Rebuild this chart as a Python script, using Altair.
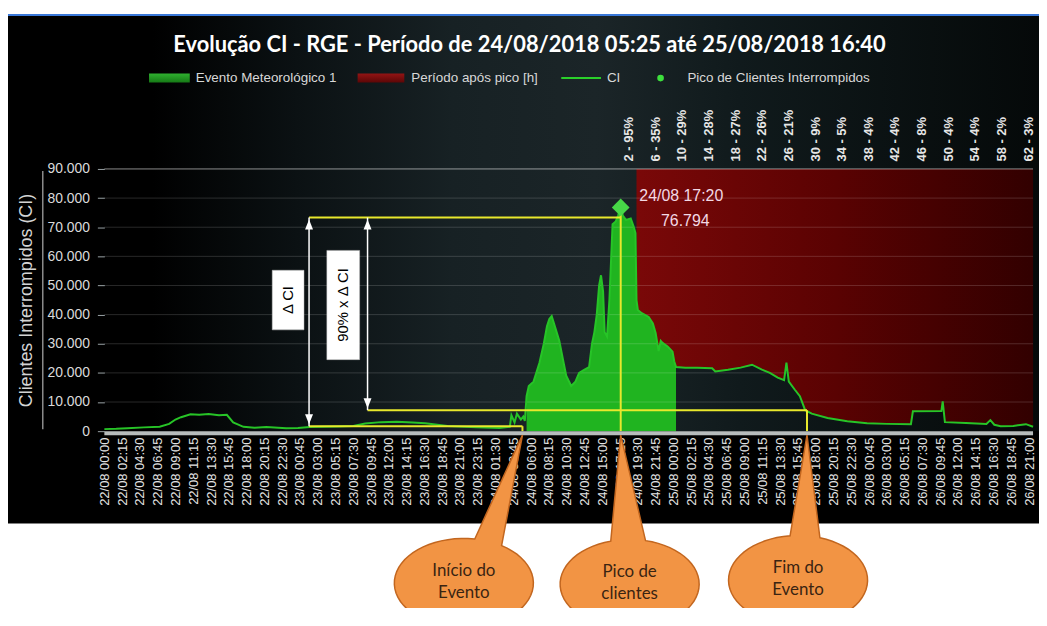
import math
import altair as alt
import pandas as pd

# ---------------- data ----------------
HOURS = [0.0, 1.5, 2.9, 5.0, 7.0, 8.2, 9.0, 9.7, 10.9, 12.0, 13.2, 14.5, 15.5, 16.3, 17.6,
         19.0, 20.5, 22.0, 23.0, 24.5, 26.0, 29.5, 31.5, 33.0, 35.0, 37.0, 39.0, 40.6, 43.4,
         47.1, 50.0, 51.3, 51.5, 51.9, 52.2, 52.7, 53.0, 53.2, 53.42, 53.7, 54.3, 55.05, 55.6,
         56.0, 56.3, 56.6, 57.0, 57.56, 58.0, 58.44, 59.07, 59.6, 60.07, 60.7, 61.33, 61.7,
         62.0, 62.3, 62.6, 62.84, 63.1, 63.3, 63.6, 63.9, 64.3, 64.7, 65.0, 65.33, 65.6, 66.0,
         66.6, 67.0, 67.2, 67.33, 67.5, 68.0, 68.87, 69.4, 69.75, 70.13, 70.4, 70.63, 71.3,
         71.89, 72.1, 72.33, 73.5, 75.0, 76.9, 77.3, 78.9, 80.5, 81.94, 83.2, 84.2, 85.2, 86.0,
         86.3, 86.6, 87.34, 88.0, 88.67, 89.5, 91.5, 94.0, 96.5, 99.0, 102.05, 102.3, 105.9,
         106.07, 106.35, 109.0, 111.6, 112.1, 112.6, 113.4, 115.0, 116.6, 117.5]
CI = [700, 800, 1000, 1300, 1500, 2500, 4000, 4800, 5800, 5600, 5900, 5500, 5600, 3000, 1500,
      1200, 1400, 1200, 1000, 1100, 1400, 1600, 1800, 2600, 3100, 3200, 3000, 2700, 1800,
      1300, 1100, 1500, 5500, 3000, 6000, 4000, 5000, 3500, 12000, 15500, 17000, 23500, 30000,
      36000, 38500, 39500, 36000, 31000, 25000, 19000, 15500, 17000, 20000, 21000, 22000, 30000,
      34000, 40000, 50000, 53500, 48000, 34000, 32500, 45000, 71000, 72000, 74000, 76794, 74000, 72500,
      73000, 70000, 68000, 45000, 41600, 40500, 39200, 37000, 33700, 27500, 31000, 30300, 29000,
      27300, 24000, 22000, 21800, 21800, 21600, 20500, 21100, 21800, 22800, 21100, 20000, 18400, 17500,
      23500, 17000, 14300, 12000, 7200, 6000, 4500, 3400, 2700, 2500, 2400, 6800, 6900,
      10200, 3100, 2800, 2500, 3800, 2200, 1700, 1800, 2400, 1500]
assert len(HOURS) == len(CI)

TICK_HOURS = [k * 2.25 for k in range(53)]
TICK_LABELS = [
    "22/08 00:00", "22/08 02:15", "22/08 04:30", "22/08 06:45", "22/08 09:00", "22/08 11:15",
    "22/08 13:30", "22/08 15:45", "22/08 18:00", "22/08 20:15", "22/08 22:30", "23/08 00:45",
    "23/08 03:00", "23/08 05:15", "23/08 07:30", "23/08 09:45", "23/08 12:00", "23/08 14:15",
    "23/08 16:30", "23/08 18:45", "23/08 21:00", "23/08 23:15", "24/08 01:30", "24/08 03:45",
    "24/08 06:00", "24/08 08:15", "24/08 10:30", "24/08 12:45", "24/08 15:00", "24/08 17:15",
    "24/08 19:30", "24/08 21:45", "25/08 00:00", "25/08 02:15", "25/08 04:30", "25/08 06:45",
    "25/08 09:00", "25/08 11:15", "25/08 13:30", "25/08 15:45", "25/08 18:00", "25/08 20:15",
    "25/08 22:30", "26/08 00:45", "26/08 03:00", "26/08 05:15", "26/08 07:30", "26/08 09:45",
    "26/08 12:00", "26/08 14:15", "26/08 16:30", "26/08 18:45", "26/08 21:00"]
Y_TICKS = [0, 10000, 20000, 30000, 40000, 50000, 60000, 70000, 80000, 90000]

TOP_HOURS = [2, 6, 10, 14, 18, 22, 26, 30, 34, 38, 42, 46, 50, 54, 58, 62]
TOP_PCTS = [95, 35, 29, 28, 27, 26, 21, 9, 5, 4, 4, 8, 4, 4, 2, 3]

EVENT_START_H = 53.42
START_MARK_H = 52.9
PEAK_H = 65.33
PEAK_CI = 76794
PEAK_TIME = "24/08 17:20"
RED_START_H = 67.33
GREEN_END_H = 72.33
END_MARK_H = 88.9
LEVEL_START = 1700
LEVEL_TOP = 73300
LEVEL_90 = 7200
ARROW_H = [25.9, 33.3]
ARROW_BOTTOM = [LEVEL_START, LEVEL_90]
BOX_H1 = [21.24, 28.15]
BOX_H2 = [25.26, 32.30]
BOX_V1 = [34770, 24545]
BOX_V2 = [55230, 62045]
BOX_TEXT = ["Δ CI", "90% x Δ CI"]

TITLE = "Evolução CI - RGE - Período de 24/08/2018 05:25 até 25/08/2018 16:40"
LEGEND_LABELS = ["Evento Meteorológico 1", "Período após pico [h]", "CI", "Pico de Clientes Interrompidos"]
CALLOUT_LINE1 = ["Início do", "Pico de", "Fim do"]
CALLOUT_LINE2 = ["Evento", "clientes", "Evento"]
CALLOUT_H = [START_MARK_H, PEAK_H, END_MARK_H]

# ---------------- layout / style ----------------
W, H = 935, 264
PAD = {"left": 97, "top": 160, "right": 6, "bottom": 176}
X_MAX, Y_MAX = 117.5, 90000
TOP_DOMAIN = [-76.81, 62.75]
FONT = "Liberation Sans"

df = pd.DataFrame({"h": HOURS, "ci": CI})
one = pd.DataFrame({"k": [0]})

label_expr = "[" + ",".join(f"'{s}'" for s in TICK_LABELS) + "][round(datum.value / 2.25)]"
top_expr = "[" + ",".join(f"'{h} - {p}%'" for h, p in zip(TOP_HOURS, TOP_PCTS)) + "][round((datum.value - 2) / 4)]"

x_scale = alt.Scale(domain=[0, X_MAX], nice=False, zero=False)
y_scale = alt.Scale(domain=[0, Y_MAX], nice=False)
x_axis = alt.Axis(values=TICK_HOURS, labelExpr=label_expr, labelAngle=-90, labelFlush=False,
                  labelOverlap=False, ticks=False, domain=False, grid=False, title=None,
                  labelFont=FONT, labelFontSize=13, labelColor="#e4e4e4", labelPadding=6)
y_axis = alt.Axis(values=Y_TICKS, labelExpr="replace(format(datum.value, ','), ',', '.')",
                  grid=False, domain=False, tickSize=7, tickColor="#9aa3a6", tickWidth=1,
                  labelColor="#dadada", labelFont=FONT, labelFontSize=14, labelPadding=8,
                  title="Clientes Interrompidos (CI)", titleFont=FONT, titleFontSize=18,
                  titleFontWeight="normal", titleColor="#d4d4d4", titleX=-78, titleY=H / 2,
                  titleAngle=270, titleAlign="center", titleBaseline="middle", zindex=1)


def X(field):
    return alt.X(f"{field}:Q", scale=x_scale, axis=x_axis)


def Y(field):
    return alt.Y(f"{field}:Q", scale=y_scale, axis=y_axis)


def grad(stops, vertical=False):
    return alt.LinearGradient(gradient="linear",
                              stops=[alt.GradientStop(offset=o, color=c) for o, c in stops],
                              x1=0, x2=0 if vertical else 1, y1=0, y2=1 if vertical else 0)


layers = []
# background of the dark panel
layers.append(alt.Chart(one).mark_rect(fill=grad([(0, "#000000"), (0.14, "#000000"), (0.28, "#0b1113"),
                                                 (0.43, "#172124"), (0.57, "#1b2528"), (0.71, "#101a1c"),
                                                 (1, "#050909")])).encode(
    x=alt.value(-PAD["left"]), x2=alt.value(W + PAD["right"]), y=alt.value(-155), y2=alt.value(H)))
layers.append(alt.Chart(one).mark_rect(fill="white").encode(
    x=alt.value(-PAD["left"] - 20), x2=alt.value(W + PAD["right"] + 20), y=alt.value(-PAD["top"] - 20),
    y2=alt.value(-155)))
layers.append(alt.Chart(one).mark_rule(color="#3a78d8", strokeWidth=2).encode(
    x=alt.value(-PAD["left"]), x2=alt.value(W + PAD["right"]), y=alt.value(-155)))

# period after peak (red) and event (green)
layers.append(alt.Chart(df).transform_filter(alt.datum.h >= RED_START_H).mark_area(
    fill=grad([(0, "#7a0808"), (0.5, "#5a0202"), (1, "#320000")])).encode(
    x=X("h"), y=Y("ci"), y2=alt.datum(Y_MAX)))
layers.append(alt.Chart(df).transform_filter(
    (alt.datum.h >= EVENT_START_H) & (alt.datum.h <= GREEN_END_H)).mark_area(fill="#20b420").encode(
    x=X("h"), y=Y("ci")))

# grid lines
grid_df = pd.DataFrame({"v": Y_TICKS[1:]})
layers.append(alt.Chart(grid_df).mark_rule(color="white", strokeWidth=1).encode(
    x=alt.value(0), x2=alt.value(W), y=Y("v"),
    opacity=alt.condition(alt.datum.v == Y_MAX, alt.value(0.55), alt.value(0.16))))

# CI line
layers.append(alt.Chart(df).mark_line(color="#27c427", strokeWidth=2).encode(x=X("h"), y=Y("ci")))

# yellow guide lines
seg_df = pd.DataFrame({
    "h1": [ARROW_H[0], START_MARK_H, ARROW_H[0], PEAK_H, ARROW_H[1], END_MARK_H],
    "h2": [START_MARK_H, START_MARK_H, PEAK_H, PEAK_H, END_MARK_H, END_MARK_H],
    "v1": [LEVEL_START, LEVEL_START, LEVEL_TOP, PEAK_CI, LEVEL_90, LEVEL_90],
    "v2": [LEVEL_START, 0, LEVEL_TOP, 0, LEVEL_90, 0]})
layers.append(alt.Chart(seg_df).mark_rule(color="#e8e82c", strokeWidth=2).encode(
    x=X("h1"), x2="h2", y=Y("v1"), y2="v2"))

# white double arrows
arr_df = pd.DataFrame({"h": ARROW_H, "top": [LEVEL_TOP, LEVEL_TOP], "bot": ARROW_BOTTOM})
layers.append(alt.Chart(arr_df).mark_rule(color="white", strokeWidth=1.5).encode(
    x=X("h"), y=Y("top"), y2="bot"))
layers.append(alt.Chart(arr_df).mark_point(shape="M0,0 L-1,2.5 L1,2.5 Z", filled=True, size=64,
                                           color="white", opacity=1, yOffset=2).encode(x=X("h"), y=Y("top")))
layers.append(alt.Chart(arr_df).mark_point(shape="M0,0 L-1,-2.5 L1,-2.5 Z", filled=True, size=64,
                                           color="white", opacity=1, yOffset=-2).encode(x=X("h"), y=Y("bot")))

# white label boxes
box_df = pd.DataFrame({"h1": BOX_H1, "h2": BOX_H2, "v1": BOX_V1, "v2": BOX_V2, "t": BOX_TEXT,
                       "hc": [(a + b) / 2 for a, b in zip(BOX_H1, BOX_H2)],
                       "vc": [(a + b) / 2 for a, b in zip(BOX_V1, BOX_V2)]})
layers.append(alt.Chart(box_df).mark_rect(fill="white", stroke="#bbbbbb", strokeWidth=0.5).encode(
    x=X("h1"), x2="h2", y=Y("v1"), y2="v2"))
layers.append(alt.Chart(box_df).mark_text(angle=270, color="black", fontSize=15, font=FONT,
                                          align="center", baseline="middle").encode(
    x=X("hc"), y=Y("vc"), text="t:N"))

# peak marker
peak_df = pd.DataFrame({"h": [PEAK_H], "ci": [PEAK_CI], "t1": [PEAK_TIME],
                        "t2": [f"{PEAK_CI:,}".replace(",", ".")]})
layers.append(alt.Chart(peak_df).mark_point(shape="diamond", filled=True, size=320, color="#47d847",
                                            opacity=1).encode(x=X("h"), y=Y("ci")))
layers.append(alt.Chart(peak_df).mark_text(font=FONT, fontSize=16, color="#f3d9e4", dx=61, dy=-11,
                                           align="center", baseline="middle").encode(
    x=X("h"), y=Y("ci"), text="t1:N"))
layers.append(alt.Chart(peak_df).mark_text(font=FONT, fontSize=16, color="#f3d9e4", dx=65, dy=14,
                                           align="center", baseline="middle").encode(
    x=X("h"), y=Y("ci"), text="t2:N"))

# gray baseline of the category axis
layers.append(alt.Chart(pd.DataFrame({"v": [0]})).mark_rule(color="#b7bcbc", strokeWidth=4, yOffset=2).encode(
    x=alt.value(0), x2=alt.value(W), y=Y("v")))
# decorative line beside the y axis title
layers.append(alt.Chart(one).mark_rule(color="#8c8c8c", strokeWidth=1.5).encode(
    x=alt.value(-62), y=alt.value(2), y2=alt.value(H - 2)))

# title
layers.append(alt.Chart(one).mark_text(text=TITLE, font="Lato", fontSize=22, fontWeight="bold",
                                       color="white", align="center", baseline="middle").encode(
    x=alt.value(428), y=alt.value(-125)))

# legend
LY = -91.5
layers.append(alt.Chart(one).mark_rect(fill=grad([(0, "#2fb02f"), (1, "#167a16")], vertical=True)).encode(
    x=alt.value(45), x2=alt.value(86), y=alt.value(LY - 4.5), y2=alt.value(LY + 4.5)))
layers.append(alt.Chart(one).mark_rect(fill=grad([(0, "#931414"), (1, "#5c0606")], vertical=True)).encode(
    x=alt.value(255), x2=alt.value(302), y=alt.value(LY - 4.5), y2=alt.value(LY + 4.5)))
layers.append(alt.Chart(one).mark_rule(color="#2ad02a", strokeWidth=2).encode(
    x=alt.value(460), x2=alt.value(500), y=alt.value(LY)))
layers.append(alt.Chart(one).mark_point(shape="circle", filled=True, size=45, color="#3de03d", opacity=1).encode(
    x=alt.value(560), y=alt.value(LY)))
for lx, lab in zip([92, 309, 506, 587], LEGEND_LABELS):
    layers.append(alt.Chart(one).mark_text(text=lab, font=FONT, fontSize=13.5, color="#d8d8d8",
                                           align="left", baseline="middle").encode(
        x=alt.value(lx), y=alt.value(LY)))

# white area under the dark panel
layers.append(alt.Chart(one).mark_rect(fill="white").encode(
    x=alt.value(-PAD["left"] - 20), x2=alt.value(W + PAD["right"] + 20), y=alt.value(357),
    y2=alt.value(H + PAD["bottom"] + 30)))


def callout_path(cx, rx, ry, bl, br, tipy, n=60):
    t_r = -math.acos(br / rx)
    t_l = 2 * math.pi - math.acos(bl / rx)
    pts = []
    for i in range(n + 1):
        t = t_r + (t_l - t_r) * i / n
        pts.append((cx + rx * math.cos(t), ry * math.sin(t)))
    pts.append((0, tipy))
    return "M" + " L".join(f"{x:.3f},{y:.3f}" for x, y in pts) + " Z"


# callouts (units of 10 px; origin at the pointer tip's x and the ellipse centre's y)
CALLOUT_STYLE = [  # (ellipse centre offset px, centre y px, base left, base right, tip dy)
    (-59, 417, 11, 38, -149),
    (9, 418, -19, 16, -150),
    (-9, 414, -8, 22, -146),
]
for h, l1, l2, (cx, cy, bl, br, tdy) in zip(CALLOUT_H, CALLOUT_LINE1, CALLOUT_LINE2, CALLOUT_STYLE):
    path = callout_path(cx / 10, 7.0, 4.5, bl / 10, br / 10, tdy / 10)
    cdf = pd.DataFrame({"h": [h]})
    layers.append(alt.Chart(cdf).mark_point(shape=path, filled=True, size=400, fill="#f29444",
                                            stroke="#c2661f", strokeWidth=1.5, opacity=1).encode(
        x=X("h"), y=alt.value(cy)))
    layers.append(alt.Chart(cdf).mark_text(text=l1, font="Lato", fontSize=17, color="#3a2412", dx=cx,
                                           align="center", baseline="middle").encode(
        x=X("h"), y=alt.value(cy - 12)))
    layers.append(alt.Chart(cdf).mark_text(text=l2, font="Lato", fontSize=17, color="#3a2412", dx=cx,
                                           align="center", baseline="middle").encode(
        x=X("h"), y=alt.value(cy + 10)))

main = alt.layer(*layers)

top = alt.Chart(pd.DataFrame({"t": TOP_HOURS})).mark_point(opacity=0).encode(
    x=alt.X("t:Q", scale=alt.Scale(domain=TOP_DOMAIN, nice=False, zero=False),
            axis=alt.Axis(orient="top", values=TOP_HOURS, labelExpr=top_expr, labelAngle=-90,
                          labelFlush=False, labelOverlap=False, ticks=False, domain=False, grid=False,
                          title=None, labelFont=FONT, labelFontSize=13, labelFontWeight="bold",
                          labelColor="#e6e6e6", labelPadding=8, zindex=1)),
    y=alt.value(0))

chart = alt.layer(main, top).resolve_scale(x="independent").properties(
    width=W, height=H, background="black", padding=PAD,
    autosize=alt.AutoSizeParams(type="none")).configure_view(stroke="transparent")

chart.save("out.html", embed_options={"renderer": "svg", "actions": False})
